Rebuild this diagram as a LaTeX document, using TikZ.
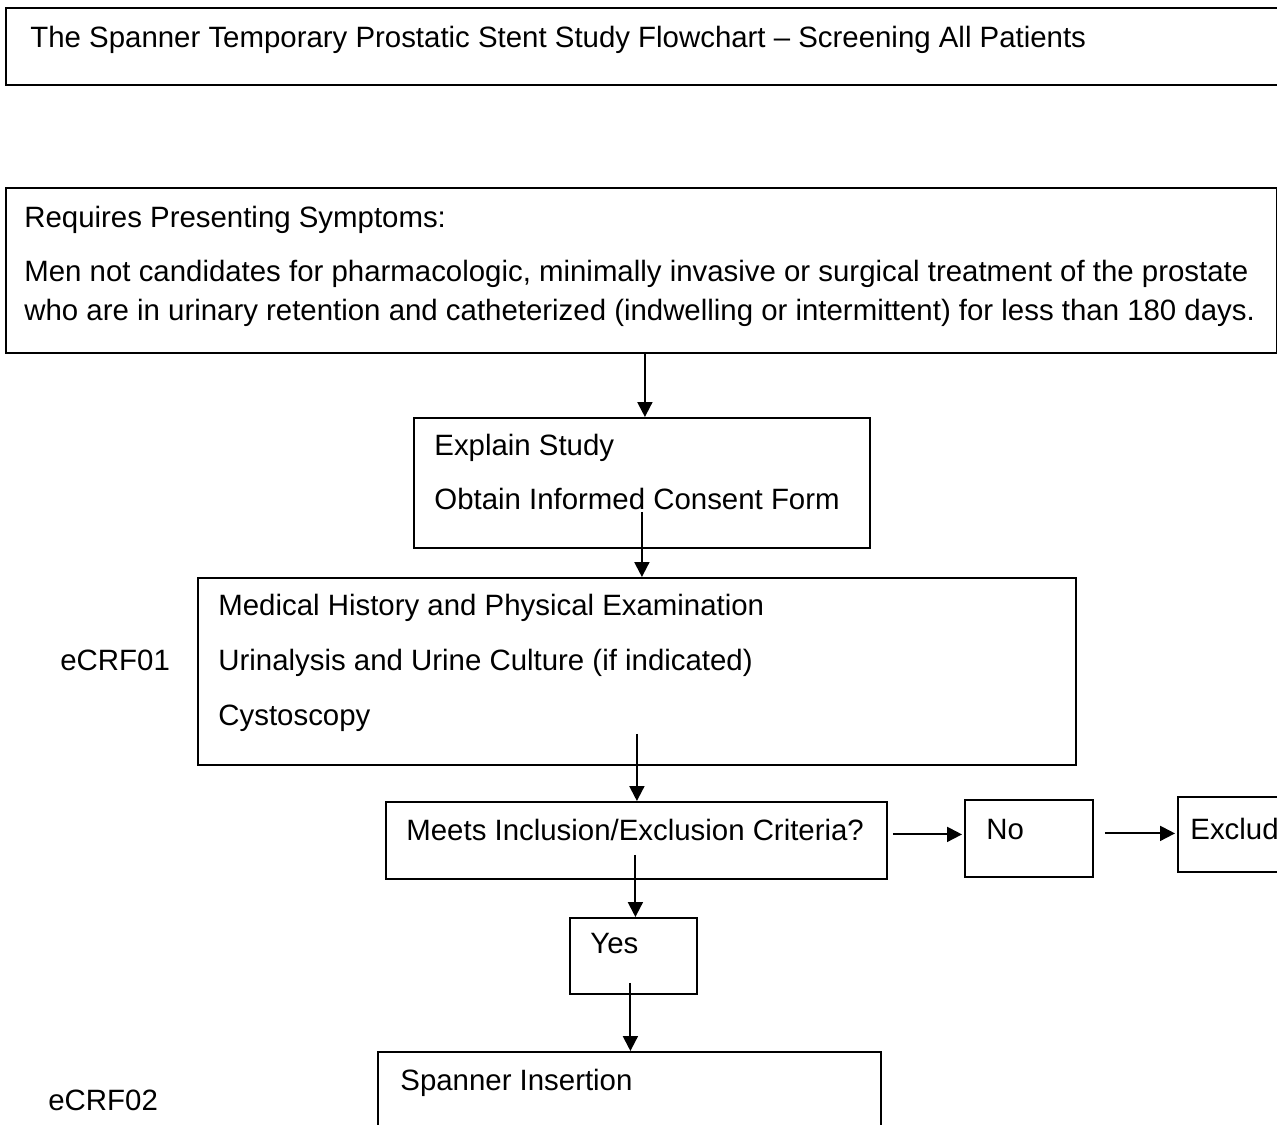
\documentclass[tikz,border=0pt]{standalone}
\usepackage{fontspec}
\setmainfont{Liberation Sans}
\usetikzlibrary{calc,arrows.meta}

\begin{document}
\begin{tikzpicture}[x=0.5pt,y=-0.5pt]
		\tikzset{
		    box/.style={rectangle,draw,line width=0.9pt,anchor=north west,inner sep=0pt},
		    txt/.style={anchor=base west,inner sep=0pt,font=\fontsize{14.7}{17}\selectfont},
		    edge/.style={-{Triangle[length=7.5pt,width=7.5pt]},line width=1pt}
		}
		\useasboundingbox (0,0) rectangle (1277,1124);
		\clip (0,0) rectangle (1277,1124);

		% boxes
		\node[box,minimum width=700pt,minimum height=38.5pt] (title) at (5,7) {};
		\node[box,minimum width=635.5pt,minimum height=82.5pt] (req) at (5,187) {};
		\node[box,minimum width=228pt,minimum height=65pt] (explain) at (413,417) {};
		\node[box,minimum width=439pt,minimum height=93.5pt] (medical) at (197,577) {};
		\node[box,minimum width=250.5pt,minimum height=38.5pt] (meets) at (385,801) {};
		\node[box,minimum width=64pt,minimum height=38.5pt] (no) at (964,799) {};
		\node[box,minimum width=100pt,minimum height=37.5pt] (excl) at (1177,796) {};
		\node[box,minimum width=63.5pt,minimum height=38pt] (yes) at (569,917) {};
		\node[box,minimum width=251.5pt,minimum height=60pt] (spanner) at (377,1051) {};

		% texts
		\node[txt] (titletxt) at (30,47) {The Spanner Temporary Prostatic Stent Study Flowchart – Screening All Patients};
		\node[txt] (reqhead) at (24,227) {Requires Presenting Symptoms:};
		\node[txt] (reqa) at (24,281) {Men not candidates for pharmacologic, minimally invasive or surgical treatment of the prostate};
		\node[txt] (reqb) at (24,320) {who are in urinary retention and catheterized (indwelling or intermittent) for less than 180 days.};
		\node[txt] (explaina) at (434,455) {Explain Study};
		\node[txt] (explainb) at (434,509) {Obtain Informed Consent Form};
		\node[txt] (medicala) at (218,615) {Medical History and Physical Examination};
		\node[txt] (medicalb) at (218,670) {Urinalysis and Urine Culture (if indicated)};
		\node[txt] (medicalc) at (218,725) {Cystoscopy};
		\node[txt] (crfa) at (60,670) {eCRF01};
		\node[txt] (meetstxt) at (406,840) {Meets Inclusion/Exclusion Criteria?};
		\node[txt] (notxt) at (986,839) {No};
		\node[txt] (excltxt) at (1190,839) {Excluded};
		\node[txt] (yestxt) at (590,953) {Yes};
		\node[txt] (spannertxt) at (400,1090) {Spanner Insertion};
		\node[txt] (crfb) at (48,1110) {eCRF02};

		% arrows
		\draw[edge] ($(req.south -| explain.north)+(3,0)$) -- ($(explain.north)+(3,0)$);
		\draw[edge] ($(explain.south)+(0,-37)$) -- (explain.south |- medical.north);
		\draw[edge] ($(medical.south)+(0,-32)$) -- (medical.south |- meets.north);
		\draw[edge] ($(meets.east |- no.west)+(5,-4)$) -- ($(no.west)+(-2,-4)$);
		\draw[edge] ($(no.east)+(11,-5)$) -- ($(excl.west |- no.east)+(-2,-5)$);
		\draw[edge] ($(meets.south -| yes.north)+(2,-25)$) -- ($(yes.north)+(2,0)$);
		\draw[edge] ($(yes.south)+(-3,-12)$) -- ($(yes.south |- spanner.north)+(-3,0)$);

	\end{tikzpicture}
\end{document}
